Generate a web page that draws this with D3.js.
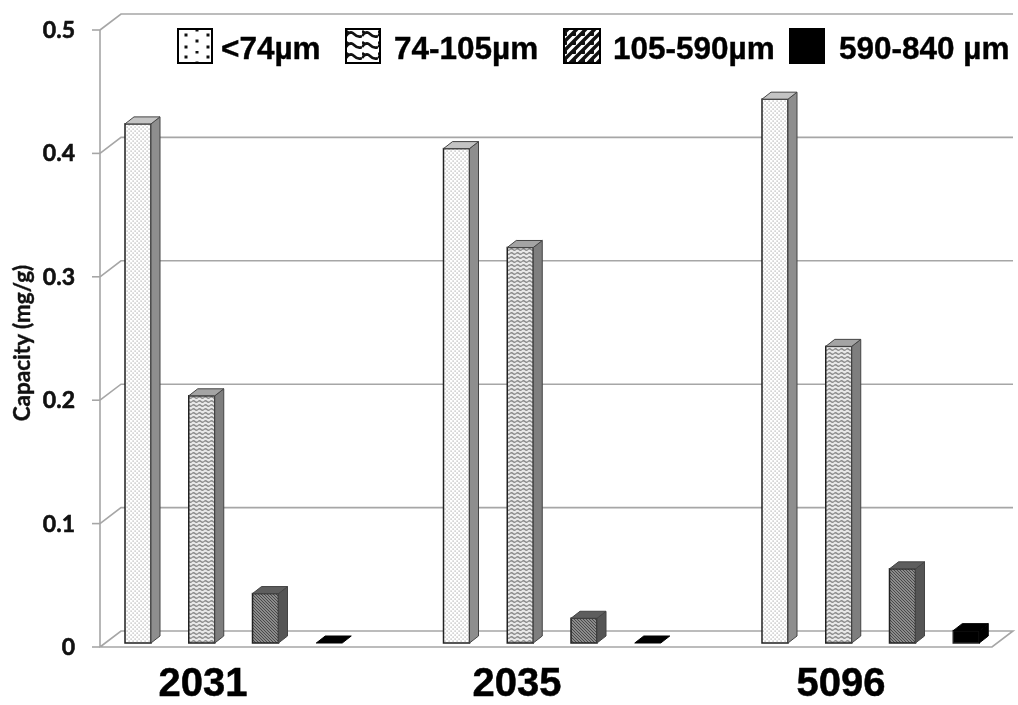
<!DOCTYPE html>
<html><head><meta charset="utf-8">
<style>html,body{margin:0;padding:0;background:#fff}svg{display:block;filter:blur(0.45px)}</style>
<script src="https://cdn.jsdelivr.net/npm/d3@7/dist/d3.min.js"></script></head>
<body><svg id="c" width="1018" height="705"></svg>
<script>
const categories = ["2031","2035","5096"];
const seriesNames = ["<74µm","74-105µm","105-590µm","590-840 µm"];
const s1 = [0.42,0.40,0.44];
const s2 = [0.20,0.32,0.24];
const s3 = [0.04,0.02,0.06];
const s4 = [0,0,0.01];
const seriesValues = [s1,s2,s3,s4];
const yTicks = [0,0.1,0.2,0.3,0.4,0.5];
const yTickLabels = ["0","0.1","0.2","0.3","0.4","0.5"];

const svg = d3.select("#c");
const defs = svg.append("defs");
const dx = 21, dy = -16, bdx = 9, bdy = -7;
const y = d3.scaleLinear().domain([0,0.5]).range([647,30]);
const yBar = d3.scaleLinear().domain([0,0.5]).range([643,25]);
const xGroup = d3.scaleBand().domain(categories).range([125,125+3*318.5]);
const xBar = d3.scaleBand().domain(d3.range(4)).range([0,255]);
const barW = 26, left = 100, right = 992, grid = "#a6a6a6";

function pat(id,w,h,bg,draw,tr){const p=defs.append("pattern").attr("id",id).attr("patternUnits","userSpaceOnUse").attr("width",w).attr("height",h);
  if(tr)p.attr("patternTransform",tr);
  p.append("rect").attr("width",w).attr("height",h).attr("fill",bg);draw(p);}
pat("f0",4,4,"#fff",p=>{[[0.5,0.5],[2.5,2.5]].forEach(([a,b])=>p.append("rect").attr("x",a).attr("y",b).attr("width",1.2).attr("height",1.2).attr("fill","#aaa"));});
pat("f1",6,4,"#e8e8e8",p=>{p.append("path").attr("d","M0 1.5Q1.5 0 3 1.5T6 1.5").attr("fill","none").attr("stroke","#888").attr("stroke-width",1.3);});
pat("f2",3,3,"#a8a8a8",p=>{p.append("path").attr("d","M0 0L3 3M-1 2L1 4M2 -1L4 1").attr("stroke","#444").attr("stroke-width",1.1);});
pat("l0",22,22,"#fff",p=>{[[8,6],[8,18],[19,12],[19,1]].forEach(([a,b])=>p.append("rect").attr("x",a-1.5).attr("y",b-1.5).attr("width",3).attr("height",3).attr("fill","#111"));},"translate(178,29)");
pat("l1",16,11,"#fff",p=>{p.append("path").attr("d","M0 7Q4 1 8 5T16 7M0 2Q3 5 6 3").attr("fill","none").attr("stroke","#111").attr("stroke-width",2.6);},"translate(346,29)");
pat("l2",9,9,"#fff",p=>{p.append("path").attr("d","M-2 5L5 -2M-2 14L14 -2M4 11L11 4").attr("stroke","#111").attr("stroke-width",3.4);});

const wall = svg.append("g").attr("fill","none").attr("stroke",grid).attr("stroke-width",1.6);
wall.selectAll("path.grid").data(yTicks.slice(1)).join("path").attr("class","grid")
  .attr("d",v=>`M${left} ${y(v)}L${left+dx} ${y(v)+dy}H${right+dx}`);
wall.append("path").attr("d",`M${left} ${y(0.5)}V${y(0)}H${right}L${right+dx} ${y(0)+dy}H${left+dx}L${left} ${y(0)}`);
wall.selectAll("path.tick").data(yTicks).join("path").attr("class","tick")
  .attr("d",v=>`M${left-8} ${y(v)}H${left}`);

svg.append("g").selectAll("text").data(yTicks).join("text")
  .attr("x",75).attr("y",v=>y(v)+8).attr("text-anchor","end")
  .attr("font-family","Lato").attr("font-weight",700).attr("font-size",23).attr("fill","#111")
  .attr("stroke","#111").attr("stroke-width",0.6)
  .text((v,i)=>yTickLabels[i]);
svg.append("text").attr("transform","translate(30,343) rotate(-90)").attr("text-anchor","middle")
  .attr("font-family","Lato").attr("font-weight",700).attr("font-size",22.5).attr("fill","#111")
  .attr("stroke","#111").attr("stroke-width",0.4).text("Capacity (mg/g)");

const faces = [
 {front:"url(#f0)",top:"#c4c4c4",side:"#8e8e8e"},
 {front:"url(#f1)",top:"#a4a4a4",side:"#7e7e7e"},
 {front:"url(#f2)",top:"#5e5e5e",side:"#555"},
 {front:"#000",top:"#000",side:"#000"}];
const rows = categories.flatMap((c,ci)=>seriesValues.map((vals,si)=>({c,si,v:vals[ci]})));
const bar = svg.append("g").selectAll("g").data(rows).join("g");
const bx = d=>xGroup(d.c)+xBar(d.si);
bar.filter(d=>d.v>0).append("rect").attr("x",bx).attr("y",d=>yBar(d.v)).attr("width",barW)
  .attr("height",d=>yBar(0)-yBar(d.v)).attr("fill",d=>faces[d.si].front).attr("stroke","#222").attr("stroke-width",1.5);
bar.filter(d=>d.v>0).append("path").attr("fill",d=>faces[d.si].side).attr("stroke",d=>d.si==3?"#000":"#444").attr("stroke-width",1)
  .attr("d",d=>{const r=bx(d)+barW,t=yBar(d.v),b=yBar(0);return `M${r} ${t}l${bdx} ${bdy}V${b+bdy}l${-bdx} ${-bdy}Z`;});
bar.append("path").attr("fill",d=>faces[d.si].top).attr("stroke",d=>d.si==3?"#000":"#444").attr("stroke-width",1)
  .attr("d",d=>{const l=bx(d),t=yBar(d.v);return `M${l} ${t}l${bdx} ${bdy}h${barW}l${-bdx} ${-bdy}Z`;});

const catCenters = d3.scaleOrdinal().domain(categories).range([203,517,841]);
svg.append("g").selectAll("text").data(categories).join("text")
  .attr("x",d=>catCenters(d)).attr("y",696).attr("text-anchor","middle")
  .attr("font-family","Liberation Sans").attr("font-weight",700).attr("font-size",40).attr("fill","#000")
  .attr("stroke","#000").attr("stroke-width",0.5).text(d=>d);

const legSwatch = [178,346,564,790], legW=[34,34,36,34], legText = [221,394,613,839], legFill=["url(#l0)","url(#l1)","url(#l2)","#000"];
const leg = svg.append("g").selectAll("g").data(seriesNames).join("g");
leg.append("rect").attr("x",(d,i)=>legSwatch[i]).attr("y",29).attr("width",(d,i)=>legW[i]).attr("height",34)
  .attr("fill",(d,i)=>legFill[i]).attr("stroke","#000").attr("stroke-width",2);
leg.append("text").attr("x",(d,i)=>legText[i]).attr("y",59)
  .attr("font-family","Liberation Sans").attr("font-weight",700).attr("font-size",31.5).attr("fill","#000")
  .attr("stroke","#000").attr("stroke-width",0.4).text(d=>d);
</script></body></html>
